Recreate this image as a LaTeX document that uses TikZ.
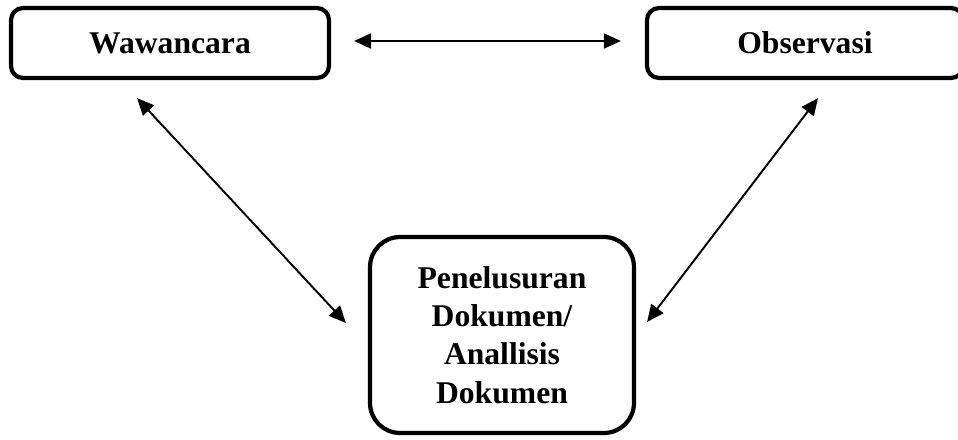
\documentclass[tikz,border=0pt]{standalone}
\usepackage{fontspec}
\setmainfont{Liberation Serif}
\usetikzlibrary{arrows.meta}
\begin{document}
\begin{tikzpicture}
  [x=0.02cm,y=-0.02cm,every node/.style={draw,line width=2.4pt,align=center,
   font=\bfseries\fontsize{18}{21.8}\selectfont,inner sep=0pt}]
  \tikzstyle{box} = [rounded corners=0.24cm]
  \tikzstyle{bigbox} = [rounded corners=0.6cm]
  \tikzstyle{link} = [line width=1.1pt,{Triangle[length=0.34cm,width=0.3cm]}-{Triangle[length=0.34cm,width=0.3cm]}]
  \useasboundingbox (0,0) rectangle (958,440);
  \clip (0,0) rectangle (958,440);
  \node[box,minimum width=6.36cm,minimum height=1.4cm] (waw) at (170,43) {Wawancara};
  \node[box,minimum width=6.32cm,minimum height=1.4cm] (obs) at (805,43) {Observasi};
  \node[bigbox,minimum width=5.28cm,minimum height=3.92cm] (dok) at (502,335)
    {Penelusuran\\Dokumen/\\Anallisis\\Dokumen};

  \draw[link] ([xshift=0.46cm,yshift=0.04cm]waw.east) -- ([xshift=-0.48cm,yshift=0.04cm]obs.west);
  \draw[link] ([xshift=-0.66cm,yshift=-0.36cm]waw.south) -- ([xshift=-0.44cm,yshift=0.24cm]dok.west);
  \draw[link] ([xshift=0.26cm,yshift=-0.36cm]obs.south) -- ([xshift=0.22cm,yshift=0.26cm]dok.east);
\end{tikzpicture}
\end{document}
